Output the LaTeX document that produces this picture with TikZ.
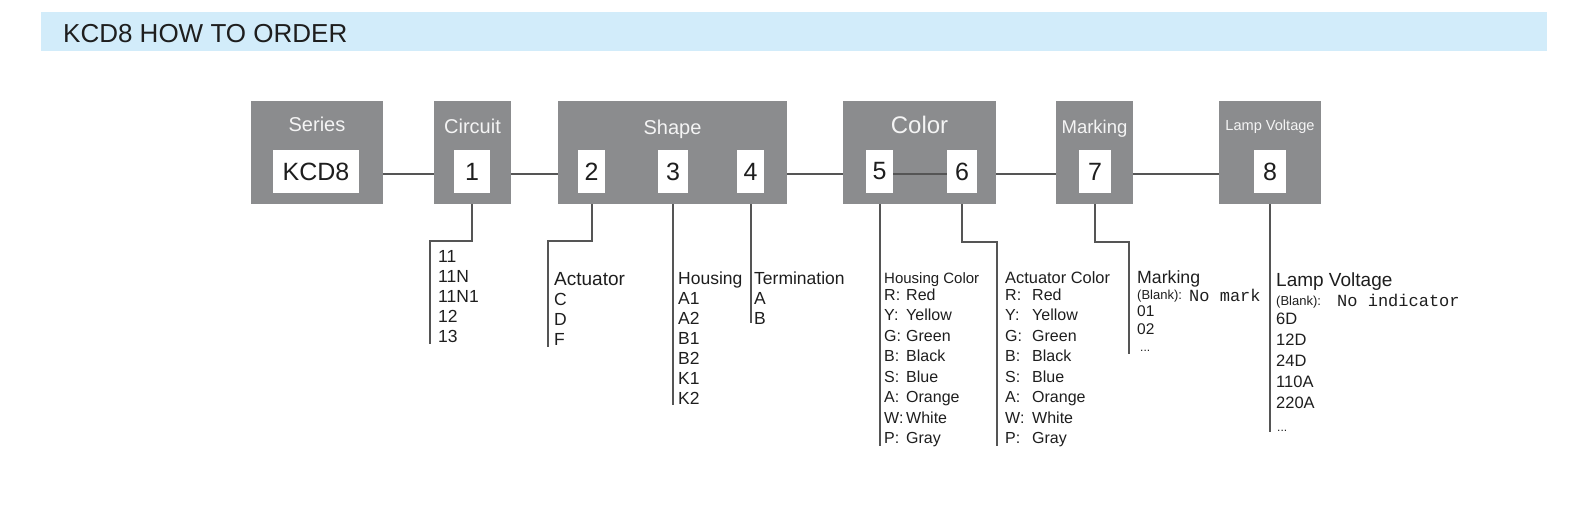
\documentclass[tikz,border=0pt]{standalone}
\usepackage{fontspec}
\setmainfont{Liberation Sans}
\newfontfamily\monofont{Liberation Mono}
\definecolor{boxgray}{RGB}{139,140,142}
\definecolor{hdrblue}{RGB}{210,236,250}
\definecolor{linegray}{RGB}{85,85,85}
\definecolor{txt}{RGB}{30,30,30}
\definecolor{ttl}{RGB}{244,244,244}
\newcommand{\fs}[1]{\fontsize{#1}{#1}\selectfont}
\tikzset{
  graybox/.style={fill=boxgray, inner sep=0pt, anchor=north west, minimum height=103pt},
  numbox/.style={fill=white, inner sep=0pt, minimum height=43pt, text=txt, font=\fs{25}},
  ttlstyle/.style={text=ttl, inner sep=0pt, anchor=base},
  conn/.style={draw=linegray, line width=2pt},
  lst/.style={text=txt, inner sep=0pt, anchor=base west, font=\fs{17.5}},
  clr/.style={text=txt, inner sep=0pt, anchor=base west, font=\fs{16}},
}
\begin{document}
\begin{tikzpicture}[x=1pt,y=-1pt]
\useasboundingbox (0,0) rectangle (1591,511);
% header
\node[fill=hdrblue, inner sep=0pt, anchor=north west, minimum width=1506pt, minimum height=39pt] (band) at (41,12) {};
\node[text=txt, inner sep=0pt, anchor=base west, font=\fs{26}] (title) at (63,43) {KCD8 HOW TO ORDER};
% gray boxes
\node[graybox, minimum width=132pt] (series) at (251,101) {};
\node[graybox, minimum width=77pt] (circuit) at (434,101) {};
\node[graybox, minimum width=229pt] (shape) at (558,101) {};
\node[graybox, minimum width=153pt] (color) at (843,101) {};
\node[graybox, minimum width=77pt] (marking) at (1056,101) {};
\node[graybox, minimum width=102pt] (lamp) at (1219,101) {};
% titles
\node[ttlstyle, font=\fs{20}] (seriesT) at (317,131) {Series};
\node[ttlstyle, font=\fs{20}] (circuitT) at (472.5,133) {Circuit};
\node[ttlstyle, font=\fs{20}] (shapeT) at (672.5,134) {Shape};
\node[ttlstyle, font=\fs{24}] (colorT) at (919.5,133) {Color};
\node[ttlstyle, font=\fs{18.5}] (markingT) at (1094.5,133) {Marking};
\node[ttlstyle, font=\fs{14.6}] (lampT) at (1270,130) {Lamp\hspace{4pt}Voltage};
% horizontal connectors
\coordinate (hl) at (0,173.5);
\draw[conn] (series.east |- hl) -- (circuit.west |- hl);
\draw[conn] (circuit.east |- hl) -- (shape.west |- hl);
\draw[conn] (shape.east |- hl) -- (color.west |- hl);
\draw[conn] (color.east |- hl) -- (marking.west |- hl);
\draw[conn] (marking.east |- hl) -- (lamp.west |- hl);
% number boxes
\node[numbox, minimum width=86pt] (kcd) at (316,171.5) {KCD8};
\node[numbox, minimum width=36pt] (n1) at (472,171.5) {1};
\node[numbox, minimum width=27pt] (n2) at (591.5,171.5) {2};
\node[numbox, minimum width=30pt] (n3) at (673,171.5) {3};
\node[numbox, minimum width=27pt] (n4) at (750.5,171.5) {4};
\node[numbox, minimum width=27pt] (n5) at (879.5,171.5) {5};
\node[numbox, minimum width=30pt] (n6) at (962,171.5) {6};
\node[numbox, minimum width=32pt] (n7) at (1095,171.5) {7};
\node[numbox, minimum width=32pt] (n8) at (1270,171.5) {8};
\draw[conn] (n5.east |- hl) -- (n6.west |- hl);
% vertical connectors
\coordinate (c1a) at (430,241); \coordinate (c1b) at (430,344);
\coordinate (c2a) at (548,241); \coordinate (c2b) at (548,347);
\coordinate (c3b) at (673,405);
\coordinate (c4b) at (750.5,323);
\coordinate (c5b) at (879.5,446);
\coordinate (c6a) at (997,242); \coordinate (c6b) at (997,446);
\coordinate (c7a) at (1129,242); \coordinate (c7b) at (1129,354);
\coordinate (c8b) at (1270,432);
\draw[conn] (n1 |- circuit.south) |- (c1a) -- (c1b);
\draw[conn] (n2 |- shape.south) |- (c2a) -- (c2b);
\draw[conn] (n3 |- shape.south) -- (c3b);
\draw[conn] (n4 |- shape.south) -- (c4b);
\draw[conn] (n5 |- color.south) -- (c5b);
\draw[conn] (n6 |- color.south) |- (c6a) -- (c6b);
\draw[conn] (n7 |- marking.south) |- (c7a) -- (c7b);
\draw[conn] (n8 |- lamp.south) -- (c8b);
% circuit list
\foreach \t [count=\i] in {11,11N,11N1,12,13}
  \node[lst] (ci\i) at (438,242+20*\i) {\t};
% actuator list
\node[lst, font=\fs{19}] (actH) at (554,285) {Actuator};
\foreach \t [count=\i] in {C,D,F}
  \node[lst] (act\i) at (554,285+20*\i) {\t};
% housing list
\node[lst] (houH) at (678,284) {Housing};
\foreach \t [count=\i] in {A1,A2,B1,B2,K1,K2}
  \node[lst] (hou\i) at (678,284+20*\i) {\t};
% termination list
\node[lst] (terH) at (754,284) {Termination};
\foreach \t [count=\i] in {A,B}
  \node[lst] (ter\i) at (754,284+20*\i) {\t};
% housing color list
\node[clr, font=\fs{15}] (hcH) at (884,283) {Housing Color};
\foreach \l/\v [count=\i] in {R/Red,Y/Yellow,G/Green,B/Black,S/Blue,A/Orange,W/White,P/Gray}{
  \node[clr] (hcl\i) at (884,279.5+20.5*\i) {\l:};
  \node[clr] (hcv\i) at (906,279.5+20.5*\i) {\v};
}
% actuator color list
\node[clr, font=\fs{16.4}] (acH) at (1005,283) {Actuator Color};
\foreach \l/\v [count=\i] in {R/Red,Y/Yellow,G/Green,B/Black,S/Blue,A/Orange,W/White,P/Gray}{
  \node[clr] (acl\i) at (1005,279.5+20.5*\i) {\l:};
  \node[clr] (acv\i) at (1032,279.5+20.5*\i) {\v};
}
% marking list
\node[lst, font=\fs{17.7}] (mkH) at (1137,283) {Marking};
\node[lst, font=\fs{13}] (mkB) at (1137,299) {(Blank):};
\node[lst, font=\monofont\fs{17}] (mkN) at (1189,301) {No mark};
\node[lst, font=\fs{15.5}] (mk1) at (1137,316) {01};
\node[lst, font=\fs{15.5}] (mk2) at (1137,334) {02};
\node[lst, font=\fs{12}] (mkD) at (1140,351) {...};
% lamp voltage list
\node[lst, font=\fs{19}] (lvH) at (1276,286) {Lamp Voltage};
\node[lst, font=\fs{13}] (lvB) at (1276,305) {(Blank):};
\node[lst, font=\monofont\fs{17}] (lvN) at (1337,306) {No indicator};
\foreach \t/\y [count=\i] in {6D/324,12D/345.5,24D/366.5,110A/387.5,220A/408}
  \node[lst, font=\fs{16.5}] (lv\i) at (1276,\y) {\t};
\node[lst, font=\fs{12}] (lvD) at (1277,431) {...};
\end{tikzpicture}
\end{document}
